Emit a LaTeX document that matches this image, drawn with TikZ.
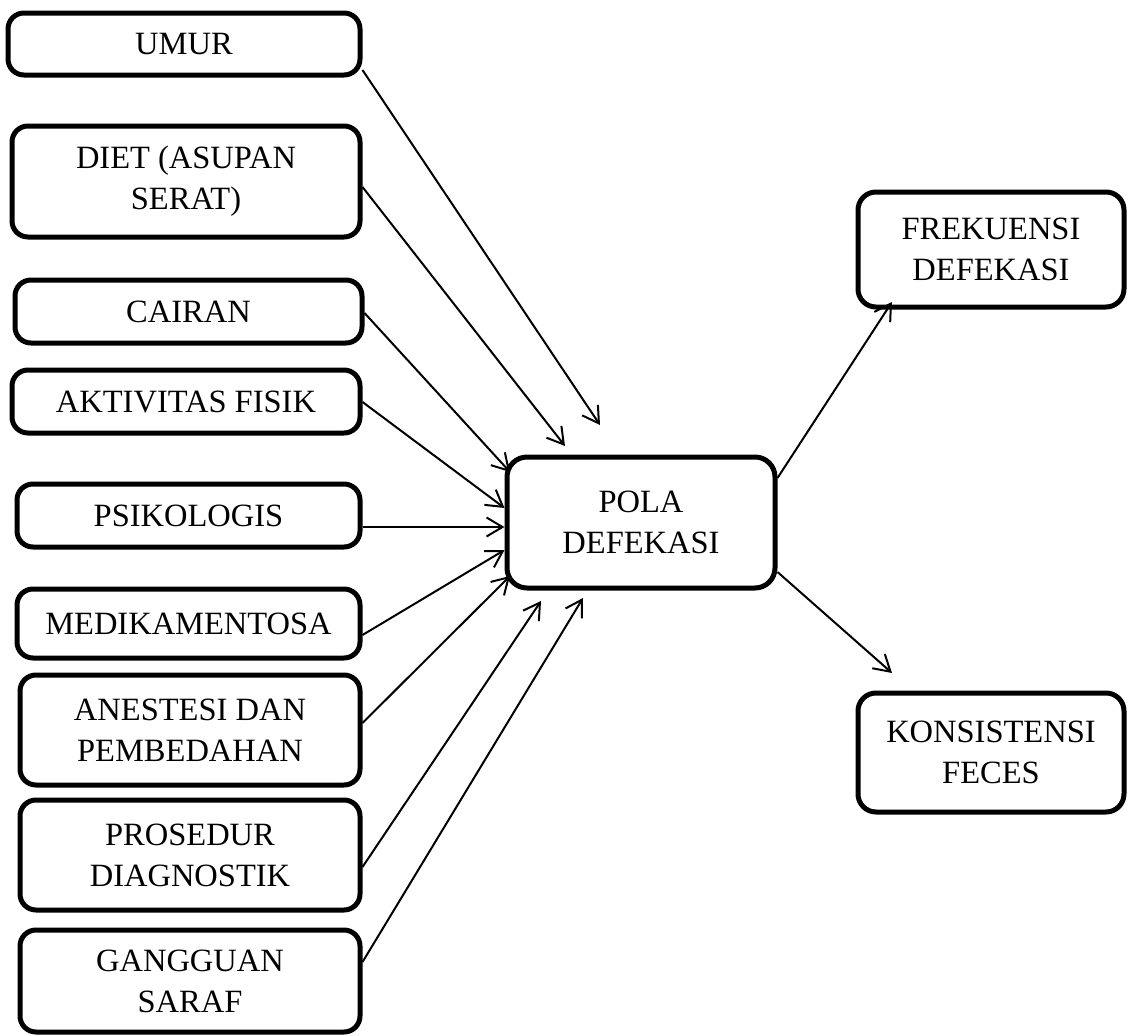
\documentclass[tikz,border=0pt]{standalone}
\usepackage{fontspec}
\setmainfont{Liberation Serif}
\usetikzlibrary{arrows.meta}
\begin{document}
\begin{tikzpicture}[x=1pt,y=-1pt,
  box/.style={draw, line width=5pt, rounded corners=16pt, align=center,
    inner sep=0pt, font=\fontsize{32.5}{41}\selectfont},
  conn/.style={line width=2pt, -{Straight Barb[length=16pt,width=19pt,line width=2pt]}}]
\useasboundingbox (0,0) rectangle (1128,1036);
% left boxes
\node[box, minimum width=352pt, minimum height=62pt]  (umur)   at (184,44)    {UMUR};
\node[box, minimum width=348pt, minimum height=111pt] (diet)   at (186,181.5) {DIET (ASUPAN\\SERAT)};
\node[box, minimum width=347pt, minimum height=63pt]  (cairan) at (188.5,311.5) {CAIRAN};
\node[box, minimum width=348pt, minimum height=63pt]  (aktiv)  at (186,401.5) {AKTIVITAS FISIK};
\node[box, minimum width=343pt, minimum height=63pt]  (psiko)  at (188.5,515.5) {PSIKOLOGIS};
\node[box, minimum width=343pt, minimum height=69pt]  (medik)  at (188.5,623.5) {MEDIKAMENTOSA};
\node[box, minimum width=340pt, minimum height=110pt] (anest)  at (190,730)   {ANESTESI DAN\\PEMBEDAHAN};
\node[box, minimum width=340pt, minimum height=110pt] (prosed) at (190,855)   {PROSEDUR\\DIAGNOSTIK};
\node[box, minimum width=340pt, minimum height=102pt] (gangg)  at (190,981)   {GANGGUAN\\SARAF};
% center
\node[box, rounded corners=20pt, minimum width=268pt, minimum height=131pt] (pola) at (641,522.5) {POLA\\DEFEKASI};
% right boxes
\node[box, rounded corners=18pt, minimum width=266pt, minimum height=115pt] (frek) at (991,249.5) {FREKUENSI\\DEFEKASI};
\node[box, rounded corners=18pt, minimum width=266pt, minimum height=119pt] (kons) at (991,752.5) {KONSISTENSI\\FECES};
% free arrow ends
\coordinate (tU) at (600,425);
\coordinate (tD) at (565,446);
\coordinate (tP) at (541,601);
\coordinate (tG) at (583,598);
\coordinate (tF) at (892,302);
\coordinate (tK) at (892,673);
% connectors
\draw[conn] (umur.east |- 0,70)   -- (tU);
\draw[conn] (diet.east |- 0,187)  -- (tD);
\draw[conn] (cairan.east |- 0,313) -- (510,472);
\draw[conn] (aktiv.east |- 0,402) -- (pola.west |- 0,508);
\draw[conn] (psiko.east |- 0,527) -- (pola.west |- 0,527);
\draw[conn] (medik.east |- 0,635) -- (pola.west |- 0,550);
\draw[conn] (anest.east |- 0,723) -- (510,576);
\draw[conn] (prosed.east |- 0,867) -- (tP);
\draw[conn] (gangg.east |- 0,962) -- (tG);
\draw[conn] (pola.east |- 0,478) -- (tF);
\draw[conn] (pola.east |- 0,572) -- (tK);
\end{tikzpicture}
\end{document}
